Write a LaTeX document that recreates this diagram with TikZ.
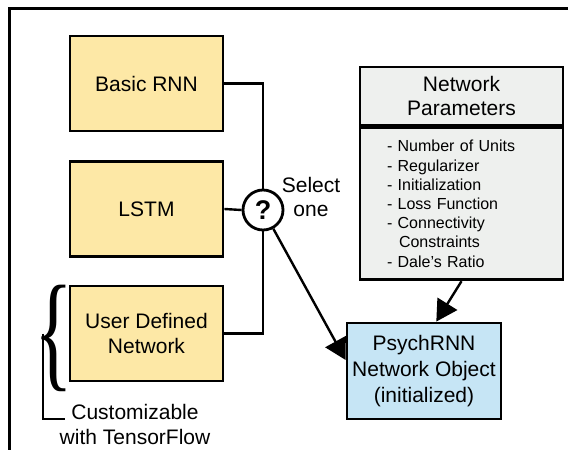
\documentclass[tikz,border=0pt]{standalone}
\usepackage{fontspec}
\setmainfont{Liberation Sans}
\newfontfamily\bracefont{Liberation Serif}
\usetikzlibrary{arrows.meta}
\definecolor{boxyellow}{HTML}{FDE8A6}
\definecolor{boxblue}{HTML}{C6E5F5}
\definecolor{boxgray}{HTML}{EEF0EE}
\begin{document}
\begin{tikzpicture}[x=1pt,y=1pt,
  box/.style={draw, line width=2.8pt, fill=boxyellow, minimum width=153pt, minimum height=95pt,
    inner sep=0pt, align=center, font=\fontsize{21}{25}\selectfont},
  conn/.style={line width=2.4pt},
  arr/.style={line width=2.4pt, -{Triangle[length=21pt,width=23pt]}},
  lbl/.style={align=center, inner sep=0pt, font=\fontsize{21}{24.5}\selectfont},
]
\useasboundingbox (0,0) rectangle (568,-450);
% frame
\coordinate (fbl) at (9,-452);
\coordinate (ftl) at (9,-8);
\coordinate (ftr) at (570,-8);
\draw[line width=3pt] (fbl) -- (ftl) -- (ftr);

% model boxes
\node[box] (brnn) at (146.5,-83.5) {Basic RNN};
\node[box] (lstm) at (146.5,-209) {LSTM};
\node[box] (udn) at (146.5,-333.5) {User Defined\\Network};

% selector
\node[draw, circle, line width=2.8pt, minimum size=40pt, inner sep=0pt, fill=white,
  font=\fontsize{27}{27}\selectfont\bfseries] (q) at (263,-210) {?};
\node[lbl] (sel) at (311,-197) {Select\\one};

\draw[conn] (brnn.east) -| (q.north);
\draw[conn] (lstm.east) -- (q.west);
\draw[conn] (udn.east) -| (q.south);

% network parameters
\node[draw, line width=2.8pt, fill=boxgray, minimum width=203pt, minimum height=58pt,
  inner sep=0pt, align=center, font=\fontsize{21}{24}\selectfont] (nph) at (461.5,-96) {Network\\Parameters};
\node[draw, line width=2.8pt, fill=boxgray, minimum width=203pt, minimum height=152pt,
  text width=149pt, inner xsep=27pt, inner ysep=0pt, align=left,
  font=\fontsize{16}{19.2}\selectfont, anchor=north] (npb) at (nph.south) {%
- Number of Units\\
- Regularizer\\
- Initialization\\
- Loss Function\\
- Connectivity\\
\hspace*{12pt}Constraints\\
- Dale’s Ratio};

% PsychRNN object
\node[box, fill=boxblue, minimum width=154pt, minimum height=96pt, font=\fontsize{21}{26}\selectfont]
  (psych) at (424,-371) {PsychRNN\\Network Object\\(initialized)};

\draw[arr] (q) -- (psych.172);
\draw[arr] (npb.south) -- (psych.76);

% brace and customizable note
\node[inner sep=0pt, xscale=0.72, yscale=1.15, font=\bracefont\fontsize{112}{112}\selectfont] (brace) at (53.5,-338) {\{};
\coordinate (tip) at (43,-333.5);
\node[lbl] (cust) at (135,-424.5) {Customizable\\with TensorFlow};
\coordinate (ce) at (65,-419);
\draw[line width=2.4pt] (tip) |- (ce);
\end{tikzpicture}
\end{document}
